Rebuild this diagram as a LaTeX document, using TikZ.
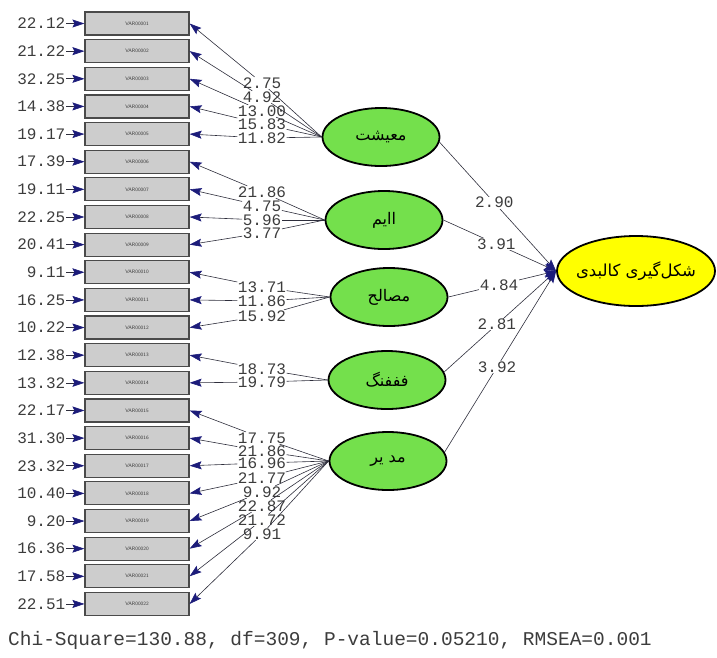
\documentclass[tikz,border=0pt]{standalone}
\usepackage{fontspec}
\usepackage{xcolor}
\usetikzlibrary{arrows.meta,positioning,shapes.geometric}
\newfontfamily\lisrelfont{Liberation Mono}
\newfontfamily\arabicfont[Script=Arabic]{DejaVu Sans}
\TeXXeTstate=1
\definecolor{boxfill}{HTML}{CDCDCD}
\definecolor{boxline}{HTML}{4A4A4A}
\definecolor{boxtext}{HTML}{3A3A3A}
\definecolor{latgreen}{HTML}{74E04C}
\definecolor{latyellow}{HTML}{FFFF00}
\definecolor{numgray}{HTML}{3C3C3C}
\definecolor{linecol}{HTML}{2E2E3C}
\definecolor{arrnavy}{HTML}{1C1C7A}
\tikzset{
  obsbox/.style={draw=boxline,fill=boxfill,line width=1.2pt,
                 minimum width=104pt,minimum height=23pt,inner sep=0pt,
                 font=\sffamily\fontsize{5}{5}\selectfont,text=boxtext},
  latent/.style={ellipse,draw=black,fill=latgreen,line width=1.8pt,
                 minimum width=117pt,minimum height=58pt,inner sep=0pt,
                 font=\arabicfont\fontsize{16}{16}\selectfont},
  outcome/.style={latent,fill=latyellow,minimum width=158pt,
                  minimum height=70pt,inner xsep=-5pt,
                  font=\arabicfont\fontsize{16.5}{16.5}\selectfont},
  numlab/.style={font=\lisrelfont\fontsize{16}{16}\selectfont,
                 text=numgray,inner sep=0.5pt},
  pathlab/.style={numlab,fill=white},
  loadarr/.style={-{Stealth[length=12pt,width=8pt,inset=2pt,color=arrnavy]},
                  line width=0.6pt,draw=linecol},
  plainline/.style={line width=0.6pt,draw=linecol}
}
\begin{document}
\begin{tikzpicture}[x=1pt,y=-1pt]
    \path[use as bounding box] (0,0) rectangle (717,657);

    % observed variables and their error values
    \foreach \i/\ev in {1/22.12,2/21.22,3/32.25,4/14.38,5/19.17,6/17.39,
                        7/19.11,8/22.25,9/20.41,10/9.11,11/16.25,12/10.22,
                        13/12.38,14/13.32,15/22.17,16/31.30,17/23.32,
                        18/10.40,19/9.20,20/16.36,21/17.58,22/22.51}{
      \pgfmathsetmacro{\yy}{23.5+(\i-1)*27.64}
      \node[obsbox] (v\i) at (137,\yy)
        {\ifnum\i<10 VAR0000\i\else VAR000\i\fi};
      \node[numlab,anchor=east] (r\i) at (66,\yy) {\ev};
      \draw[loadarr] (r\i) -- (v\i);
    }

    % latent variables
    \node[latent] (maeishat) at (381,137) {\beginR معیشت\endR};
    \node[latent] (eqlim) at (384,220) {\beginR اایم\endR};
    \node[latent] (masaleh) at (389,297) {\beginR مصالح\endR};
    \node[latent] (farhang) at (387,380) {\beginR فففنگ\endR};
    \node[latent] (modir) at (388,461) {\beginR مد یر\endR};
    \node[outcome] (kalbadi) at (636,271) {\beginR شکل‌گیری کالبدی\endR};

    % loadings
    \foreach \lat/\obs/\val/\yy in {maeishat/1/2.75/83,maeishat/2/4.92/97,
        maeishat/3/13.00/111,maeishat/4/15.83/124,maeishat/5/11.82/138,
        eqlim/6/21.86/192,eqlim/7/4.75/206,eqlim/8/5.96/220,eqlim/9/3.77/233,
        masaleh/10/13.71/287,masaleh/11/11.86/301,masaleh/12/15.92/316,
        farhang/13/18.73/369,farhang/14/19.79/382,
        modir/15/17.75/438,modir/16/21.86/451,modir/17/16.96/463,
        modir/18/21.77/478,modir/19/9.92/492,modir/20/22.87/506,
        modir/21/21.72/520,modir/22/9.91/534}{
      \node[numlab] (l\obs) at (262,\yy) {\val};
      \draw[plainline] (\lat.west) -- (l\obs);
      \draw[loadarr] (l\obs) -- (v\obs.east);
    }

    % structural paths
    \draw[loadarr] (maeishat.-5) -- node[pathlab,pos=0.47] (s1) {2.90} (kalbadi.west);
    \draw[loadarr] (eqlim.east) -- node[pathlab,pos=0.47] (s2) {3.91} (kalbadi.west);
    \draw[loadarr] (masaleh.east) -- node[pathlab,pos=0.47] (s3) {4.84} (kalbadi.west);
    \draw[loadarr] (farhang.8) -- node[pathlab,pos=0.47] (s4) {2.81} (kalbadi.west);
    \draw[loadarr] (modir.9) -- node[pathlab,pos=0.47] (s5) {3.92} (kalbadi.west);

    \node[font=\lisrelfont\fontsize{19.5}{19.5}\selectfont,text=numgray,
          anchor=base west,inner sep=0pt] (fitline) at (8,645)
      {Chi-Square=130.88, df=309, P-value=0.05210, RMSEA=0.001};
  \end{tikzpicture}
\end{document}
